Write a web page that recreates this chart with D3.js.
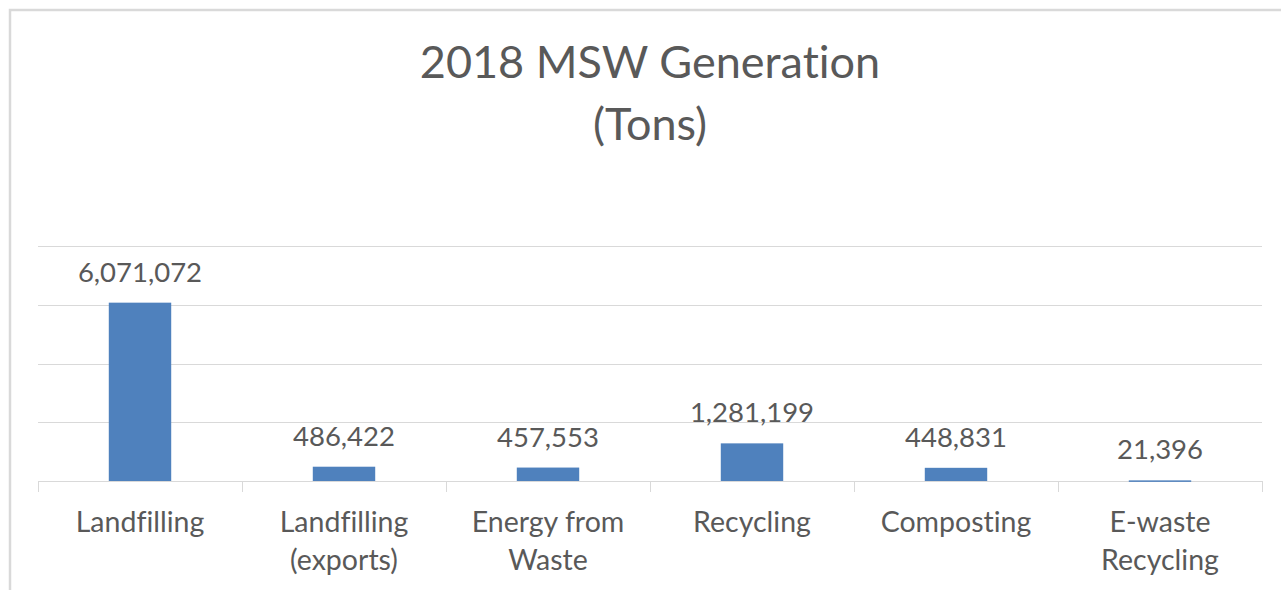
<!DOCTYPE html>
<html>
<head>
<meta charset="utf-8">
<script src="https://cdn.jsdelivr.net/npm/d3@7"></script>
<style>
  html, body { margin: 0; padding: 0; background: #fff; }
  svg { display: block; }
  text { font-family: Lato, "Open Sans", sans-serif; fill: #595959; font-variant-ligatures: none; font-feature-settings: "liga" 0, "clig" 0; }
</style>
</head>
<body>
<svg id="chart" width="1281" height="590"></svg>
<script>
const categories = ["Landfilling", "Landfilling (exports)", "Energy from Waste", "Recycling", "Composting", "E-waste Recycling"];
const categoryLines = [["Landfilling"], ["Landfilling", "(exports)"], ["Energy from", "Waste"], ["Recycling"], ["Composting"], ["E-waste", "Recycling"]];
const values = [6071072, 486422, 457553, 1281199, 448831, 21396];
const yTicks = [0, 2000000, 4000000, 6000000, 8000000];
const titleLines = ["2018 MSW Generation", "(Tons)"];

(function () {
const svg = d3.select("#chart");
const pLeft = 38, pRight = 1262, pTop = 246, pBottom = 481;

// chart border
svg.append("rect").attr("x", 10).attr("y", 10).attr("width", 1300).attr("height", 620)
  .attr("fill", "#fff").attr("stroke", "#d9d9d9").attr("stroke-width", 2.5);

const x = d3.scaleBand().domain(categories).range([pLeft, pRight]).paddingInner(0).paddingOuter(0);
const y = d3.scaleLinear().domain([0, 8000000]).range([pBottom, pTop]);

// gridlines
svg.append("g").selectAll("line").data(yTicks).join("line")
  .attr("x1", pLeft).attr("x2", pRight)
  .attr("y1", d => Math.round(y(d)) + 0.5).attr("y2", d => Math.round(y(d)) + 0.5)
  .attr("stroke", "#d9d9d9").attr("stroke-width", 1);

// category tick marks
const bounds = categories.map(c => x(c)).concat([pRight]);
svg.append("g").selectAll("line").data(bounds).join("line")
  .attr("x1", d => Math.round(d) + 0.5).attr("x2", d => Math.round(d) + 0.5)
  .attr("y1", pBottom).attr("y2", pBottom + 11)
  .attr("stroke", "#d9d9d9").attr("stroke-width", 1);

// bars
const bw = x.bandwidth() * 0.306;
svg.append("g").selectAll("rect").data(values).join("rect")
  .attr("x", (d, i) => x(categories[i]) + x.bandwidth() / 2 - bw / 2)
  .attr("width", bw)
  .attr("y", d => y(d))
  .attr("height", d => Math.max(1.5, y(0) - y(d)))
  .attr("fill", "#4f81bd");

// data labels
const fmt = d3.format(",");
svg.append("g").selectAll("text").data(values).join("text")
  .attr("x", (d, i) => x(categories[i]) + x.bandwidth() / 2)
  .attr("y", d => y(d) - 21)
  .attr("text-anchor", "middle")
  .attr("font-size", 27.5)
  .text(d => fmt(d));

// category labels
const cl = svg.append("g").selectAll("text").data(categoryLines).join("text")
  .attr("text-anchor", "middle")
  .attr("font-size", 28.5);
cl.each(function(lines, i) {
  const t = d3.select(this);
  lines.forEach((ln, j) => {
    t.append("tspan")
      .attr("x", x(categories[i]) + x.bandwidth() / 2)
      .attr("y", 532 + j * 37.5)
      .text(ln);
  });
});

// title
svg.append("g").selectAll("text").data(titleLines).join("text")
  .attr("x", 650)
  .attr("y", (d, i) => 78 + i * 62)
  .attr("text-anchor", "middle")
  .attr("font-size", 45)
  .text(d => d);
})();
</script>
</body>
</html>
